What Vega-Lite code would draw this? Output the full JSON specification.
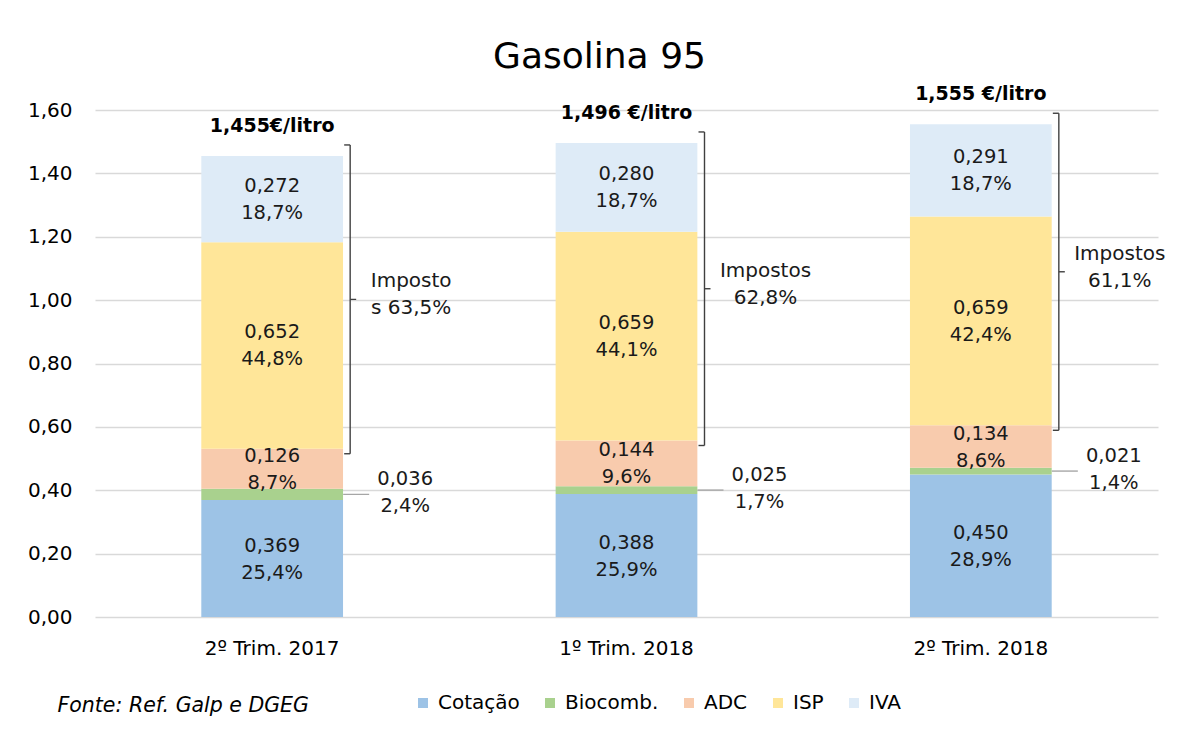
{
  "$schema": "https://vega.github.io/schema/vega-lite/v6.json",
  "width": 1063,
  "height": 507,
  "autosize": {"type": "none"},
  "padding": {"left": 95, "top": 110, "right": 19, "bottom": 115},
  "background": "white",
  "title": {"text": "Gasolina 95", "fontSize": 36, "font": "DejaVu Sans", "fontWeight": "normal", "color": "#000000", "anchor": "middle", "dx": -27, "offset": 9},
  "datasets": {
    "comp": [
      {"periodo": "2º Trim. 2017", "componente": "Cotação", "ordem": 1, "valor": 0.369, "rotulo": "0,369\n25,4%"},
      {"periodo": "2º Trim. 2017", "componente": "Biocomb.", "ordem": 2, "valor": 0.036, "rotulo": "0,036\n2,4%"},
      {"periodo": "2º Trim. 2017", "componente": "ADC", "ordem": 3, "valor": 0.126, "rotulo": "0,126\n8,7%"},
      {"periodo": "2º Trim. 2017", "componente": "ISP", "ordem": 4, "valor": 0.652, "rotulo": "0,652\n44,8%"},
      {"periodo": "2º Trim. 2017", "componente": "IVA", "ordem": 5, "valor": 0.272, "rotulo": "0,272\n18,7%"},
      {"periodo": "1º Trim. 2018", "componente": "Cotação", "ordem": 1, "valor": 0.388, "rotulo": "0,388\n25,9%"},
      {"periodo": "1º Trim. 2018", "componente": "Biocomb.", "ordem": 2, "valor": 0.025, "rotulo": "0,025\n1,7%"},
      {"periodo": "1º Trim. 2018", "componente": "ADC", "ordem": 3, "valor": 0.144, "rotulo": "0,144\n9,6%"},
      {"periodo": "1º Trim. 2018", "componente": "ISP", "ordem": 4, "valor": 0.659, "rotulo": "0,659\n44,1%"},
      {"periodo": "1º Trim. 2018", "componente": "IVA", "ordem": 5, "valor": 0.280, "rotulo": "0,280\n18,7%"},
      {"periodo": "2º Trim. 2018", "componente": "Cotação", "ordem": 1, "valor": 0.450, "rotulo": "0,450\n28,9%"},
      {"periodo": "2º Trim. 2018", "componente": "Biocomb.", "ordem": 2, "valor": 0.021, "rotulo": "0,021\n1,4%"},
      {"periodo": "2º Trim. 2018", "componente": "ADC", "ordem": 3, "valor": 0.134, "rotulo": "0,134\n8,6%"},
      {"periodo": "2º Trim. 2018", "componente": "ISP", "ordem": 4, "valor": 0.659, "rotulo": "0,659\n42,4%"},
      {"periodo": "2º Trim. 2018", "componente": "IVA", "ordem": 5, "valor": 0.291, "rotulo": "0,291\n18,7%"}
    ],
    "totais": [
      {"periodo": "2º Trim. 2017", "total": 1.455, "inicioImpostos": 0.531, "rotuloTotal": "1,455€/litro", "rotuloImpostos": "Imposto\ns 63,5%"},
      {"periodo": "1º Trim. 2018", "total": 1.496, "inicioImpostos": 0.557, "rotuloTotal": "1,496 €/litro", "rotuloImpostos": "Impostos\n62,8%"},
      {"periodo": "2º Trim. 2018", "total": 1.555, "inicioImpostos": 0.605, "rotuloTotal": "1,555 €/litro", "rotuloImpostos": "Impostos\n61,1%"}
    ]
  },
  "encoding": {
    "x": {
      "field": "periodo",
      "type": "nominal",
      "sort": ["2º Trim. 2017", "1º Trim. 2018", "2º Trim. 2018"],
      "scale": {"paddingInner": 0.6, "paddingOuter": 0.3},
      "title": "Fonte: Ref. Galp e DGEG",
      "axis": {
        "labelAngle": 0, "labelFontSize": 20, "labelFont": "DejaVu Sans", "labelColor": "#000000",
        "labelPadding": 21, "domain": false, "ticks": false, "grid": false,
        "titleFont": "DejaVu Sans", "titleFontSize": 20.5, "titleFontStyle": "italic", "titleFontWeight": "normal",
        "titleColor": "#000000", "titleAnchor": "start", "titleAlign": "left", "titleX": -38, "titleY": 88, "titleBaseline": "middle"
      }
    }
  },
  "layer": [
    {
      "data": {"name": "comp"},
      "transform": [
        {"stack": "valor", "groupby": ["periodo"], "sort": [{"field": "ordem", "order": "ascending"}], "as": ["y0", "y1"]}
      ],
      "layer": [
        {
          "mark": {"type": "bar"},
          "encoding": {
            "y": {
              "field": "y0", "type": "quantitative", "title": null,
              "scale": {"domain": [0, 1.6], "nice": false, "zero": true},
              "axis": {
                "values": [0, 0.2, 0.4, 0.6, 0.8, 1.0, 1.2, 1.4, 1.6], "format": ".2f",
                "labelFontSize": 20, "labelFont": "DejaVu Sans", "labelColor": "#000000", "labelPadding": 23,
                "domain": false, "ticks": false, "grid": true, "gridColor": "#d9d9d9", "gridWidth": 1.6
              }
            },
            "y2": {"field": "y1"},
            "color": {
              "field": "componente", "type": "nominal", "title": null,
              "scale": {"domain": ["Cotação", "Biocomb.", "ADC", "ISP", "IVA"], "range": ["#9dc3e6", "#a9d18e", "#f8cbad", "#ffe699", "#deebf7"]},
              "legend": {
                "orient": "none", "legendX": 318, "legendY": 583, "direction": "horizontal",
                "symbolType": "square", "symbolSize": 100, "symbolStrokeWidth": 0,
                "labelFontSize": 20, "labelFont": "DejaVu Sans", "labelColor": "#000000",
                "columnPadding": 20, "labelOffset": 5, "padding": 0
              }
            }
          }
        },
        {
          "transform": [
            {"filter": "datum.componente !== 'Biocomb.'"},
            {"fold": ["y0", "y1"], "as": ["extremo", "v"]},
            {"aggregate": [{"op": "mean", "field": "v", "as": "meio"}], "groupby": ["periodo", "componente", "rotulo"]}
          ],
          "mark": {"type": "text", "lineBreak": "\n", "lineHeight": 27, "fontSize": 19.5, "font": "DejaVu Sans", "color": "#1a1a1a", "baseline": "middle", "align": "center", "dy": -13},
          "encoding": {
            "y": {"field": "meio", "type": "quantitative", "title": null},
            "text": {"field": "rotulo"}
          }
        },
        {
          "transform": [
            {"filter": "datum.componente === 'Biocomb.'"},
            {"fold": ["y0", "y1"], "as": ["extremo", "v"]},
            {"aggregate": [{"op": "mean", "field": "v", "as": "meio"}], "groupby": ["periodo", "componente", "rotulo"]}
          ],
          "layer": [
            {
              "mark": {"type": "text", "lineBreak": "\n", "lineHeight": 27, "fontSize": 19.5, "font": "DejaVu Sans", "color": "#1a1a1a", "baseline": "middle", "align": "center", "dx": 133, "dy": -15},
              "encoding": {
                "y": {"field": "meio", "type": "quantitative", "title": null},
                "text": {"field": "rotulo"}
              }
            },
            {
              "mark": {"type": "tick", "orient": "horizontal", "size": 26, "thickness": 1.4, "xOffset": 84, "color": "#a6a6a6", "opacity": 1},
              "encoding": {
                "y": {"field": "meio", "type": "quantitative", "title": null}
              }
            }
          ]
        }
      ]
    },
    {
      "data": {"name": "totais"},
      "layer": [
        {
          "mark": {"type": "text", "fontSize": 19, "fontWeight": "bold", "font": "DejaVu Sans", "color": "#000000", "baseline": "middle", "align": "center", "dy": -30},
          "encoding": {
            "y": {"field": "total", "type": "quantitative", "title": null},
            "text": {"field": "rotuloTotal"}
          }
        },
        {
          "mark": {"type": "rule", "color": "#404040", "strokeWidth": 1.4, "xOffset": 78, "yOffset": 5, "y2Offset": -11},
          "encoding": {
            "y": {"field": "inicioImpostos", "type": "quantitative", "title": null},
            "y2": {"field": "total"}
          }
        },
        {
          "mark": {"type": "tick", "orient": "horizontal", "size": 6, "thickness": 1.4, "xOffset": 75, "yOffset": -11, "color": "#404040", "opacity": 1},
          "encoding": {
            "y": {"field": "total", "type": "quantitative", "title": null}
          }
        },
        {
          "mark": {"type": "tick", "orient": "horizontal", "size": 6, "thickness": 1.4, "xOffset": 75, "yOffset": 5, "color": "#404040", "opacity": 1},
          "encoding": {
            "y": {"field": "inicioImpostos", "type": "quantitative", "title": null}
          }
        },
        {
          "transform": [
            {"fold": ["inicioImpostos", "total"], "as": ["extremo", "v"]},
            {"aggregate": [{"op": "mean", "field": "v", "as": "meio"}], "groupby": ["periodo", "rotuloImpostos"]}
          ],
          "layer": [
            {
              "mark": {"type": "tick", "orient": "horizontal", "size": 6, "thickness": 1.4, "xOffset": 81, "yOffset": -3, "color": "#404040", "opacity": 1},
              "encoding": {
                "y": {"field": "meio", "type": "quantitative", "title": null}
              }
            },
            {
              "mark": {"type": "text", "lineBreak": "\n", "lineHeight": 27, "fontSize": 20, "font": "DejaVu Sans", "color": "#1a1a1a", "baseline": "middle", "align": "center", "dx": 139, "dy": -21},
              "encoding": {
                "y": {"field": "meio", "type": "quantitative", "title": null},
                "text": {"field": "rotuloImpostos"}
              }
            }
          ]
        }
      ]
    }
  ],
  "config": {
    "locale": {"number": {"decimal": ",", "thousands": ".", "grouping": [3], "currency": ["", " €"]}},
    "view": {"stroke": null},
    "font": "DejaVu Sans"
  }
}
